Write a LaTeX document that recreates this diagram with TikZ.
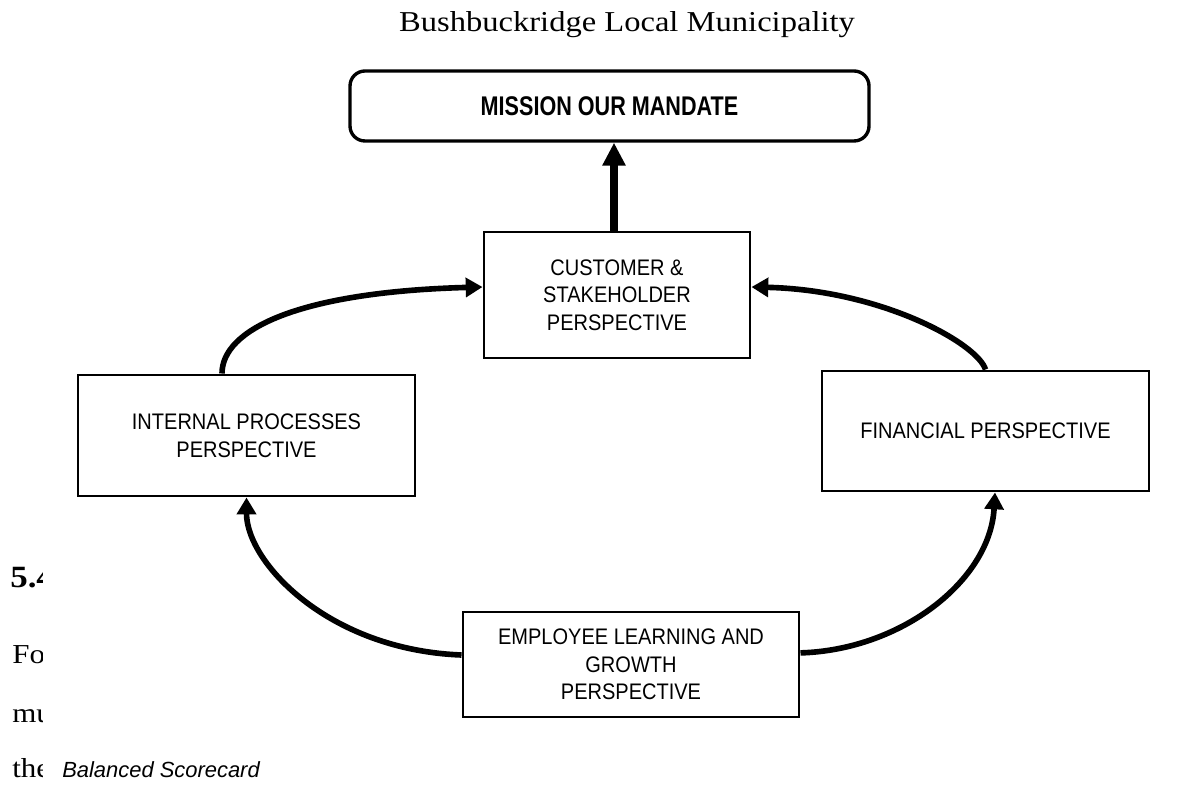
\documentclass[tikz,border=0pt]{standalone}
\usepackage{fontspec}
\setmainfont{Liberation Serif}
\setsansfont{Liberation Sans}
\newfontfamily\boxfont[FakeStretch=0.89]{Liberation Sans}
\newfontfamily\mandatefont[FakeStretch=0.8]{Liberation Sans}
\newfontfamily\bookfont[FakeStretch=1.13]{Liberation Serif}
\usetikzlibrary{arrows.meta}

\begin{document}
\begin{tikzpicture}[
  perspective/.style={draw, line width=2.1pt, fill=white, align=center, inner sep=0pt,
    font=\boxfont\fontsize{16}{19.6}\selectfont},
  link/.style={-{Triangle[length=0.42cm, width=0.47cm]}, line width=4pt},
  pagetext/.style={anchor=base west, inner sep=0pt, font=\bookfont\fontsize{19.5}{23}\selectfont}
]
\useasboundingbox (0,0) rectangle (29.6,19.625);

\node[anchor=base, font=\bookfont\fontsize{20.5}{24}\selectfont] (title) at (15.675,18.825) {Bushbuckridge Local Municipality};

\begin{scope}
\clip (0,0) rectangle (1.05,6);
\node[pagetext, font=\bookfont\bfseries\fontsize{22}{26}\selectfont] (section) at (0.25,4.95) {5.4};
\node[pagetext] (line1) at (0.3,3.05) {For};
\node[pagetext] (line2) at (0.3,1.575) {mu};
\node[pagetext] (line3) at (0.3,0.2) {the};
\end{scope}
\node[anchor=base west, inner sep=0pt, font=\sffamily\itshape\fontsize{15.6}{19}\selectfont] (caption) at (1.55,0.2) {Balanced Scorecard};

\node[draw, rounded corners=0.375cm, line width=2.4pt, minimum width=12.975cm, minimum height=1.75cm,
  font=\mandatefont\bfseries\fontsize{19.2}{23}\selectfont] (mission) at (15.2375,16.975) {MISSION OUR MANDATE};

\node[perspective, minimum width=6.65cm, minimum height=3.15cm] (customer) at (15.425,12.25) {CUSTOMER \&\\STAKEHOLDER\\PERSPECTIVE};
\node[perspective, minimum width=8.425cm, minimum height=3.025cm] (internal) at (6.1625,8.7375) {INTERNAL PROCESSES\\PERSPECTIVE};
\node[perspective, minimum width=8.175cm, minimum height=3cm] (financial) at (24.6375,8.85) {FINANCIAL PERSPECTIVE};
\node[perspective, minimum width=8.4cm, minimum height=2.625cm] (employee) at (15.775,3.0125) {EMPLOYEE LEARNING AND\\GROWTH\\PERSPECTIVE};

\coordinate (stem) at ([xshift=-0.075cm]customer.north);
\draw[-{Triangle[length=0.575cm, width=0.55cm]}, line width=5pt] (stem) -- (stem |- mission.south);

\draw[link] ([xshift=-0.6125cm]internal.north) .. controls +(0,1.1) and +(-4.6,-0.125) .. ([yshift=0.2cm]customer.west);
\draw[link] (financial.north) .. controls +(-0.2,0.65) and +(3.25,-0.075) .. ([yshift=0.2cm]customer.east);
\draw[link] ([yshift=0.2375cm]employee.west) .. controls +(-3.325,0.125) and +(0,-1.625) .. (internal.south);
\draw[link] ([yshift=0.29cm]employee.east) .. controls +(2.525,0.075) and +(-0.125,-2.2) .. ([xshift=0.2375cm]financial.south);
\end{tikzpicture}
\end{document}
